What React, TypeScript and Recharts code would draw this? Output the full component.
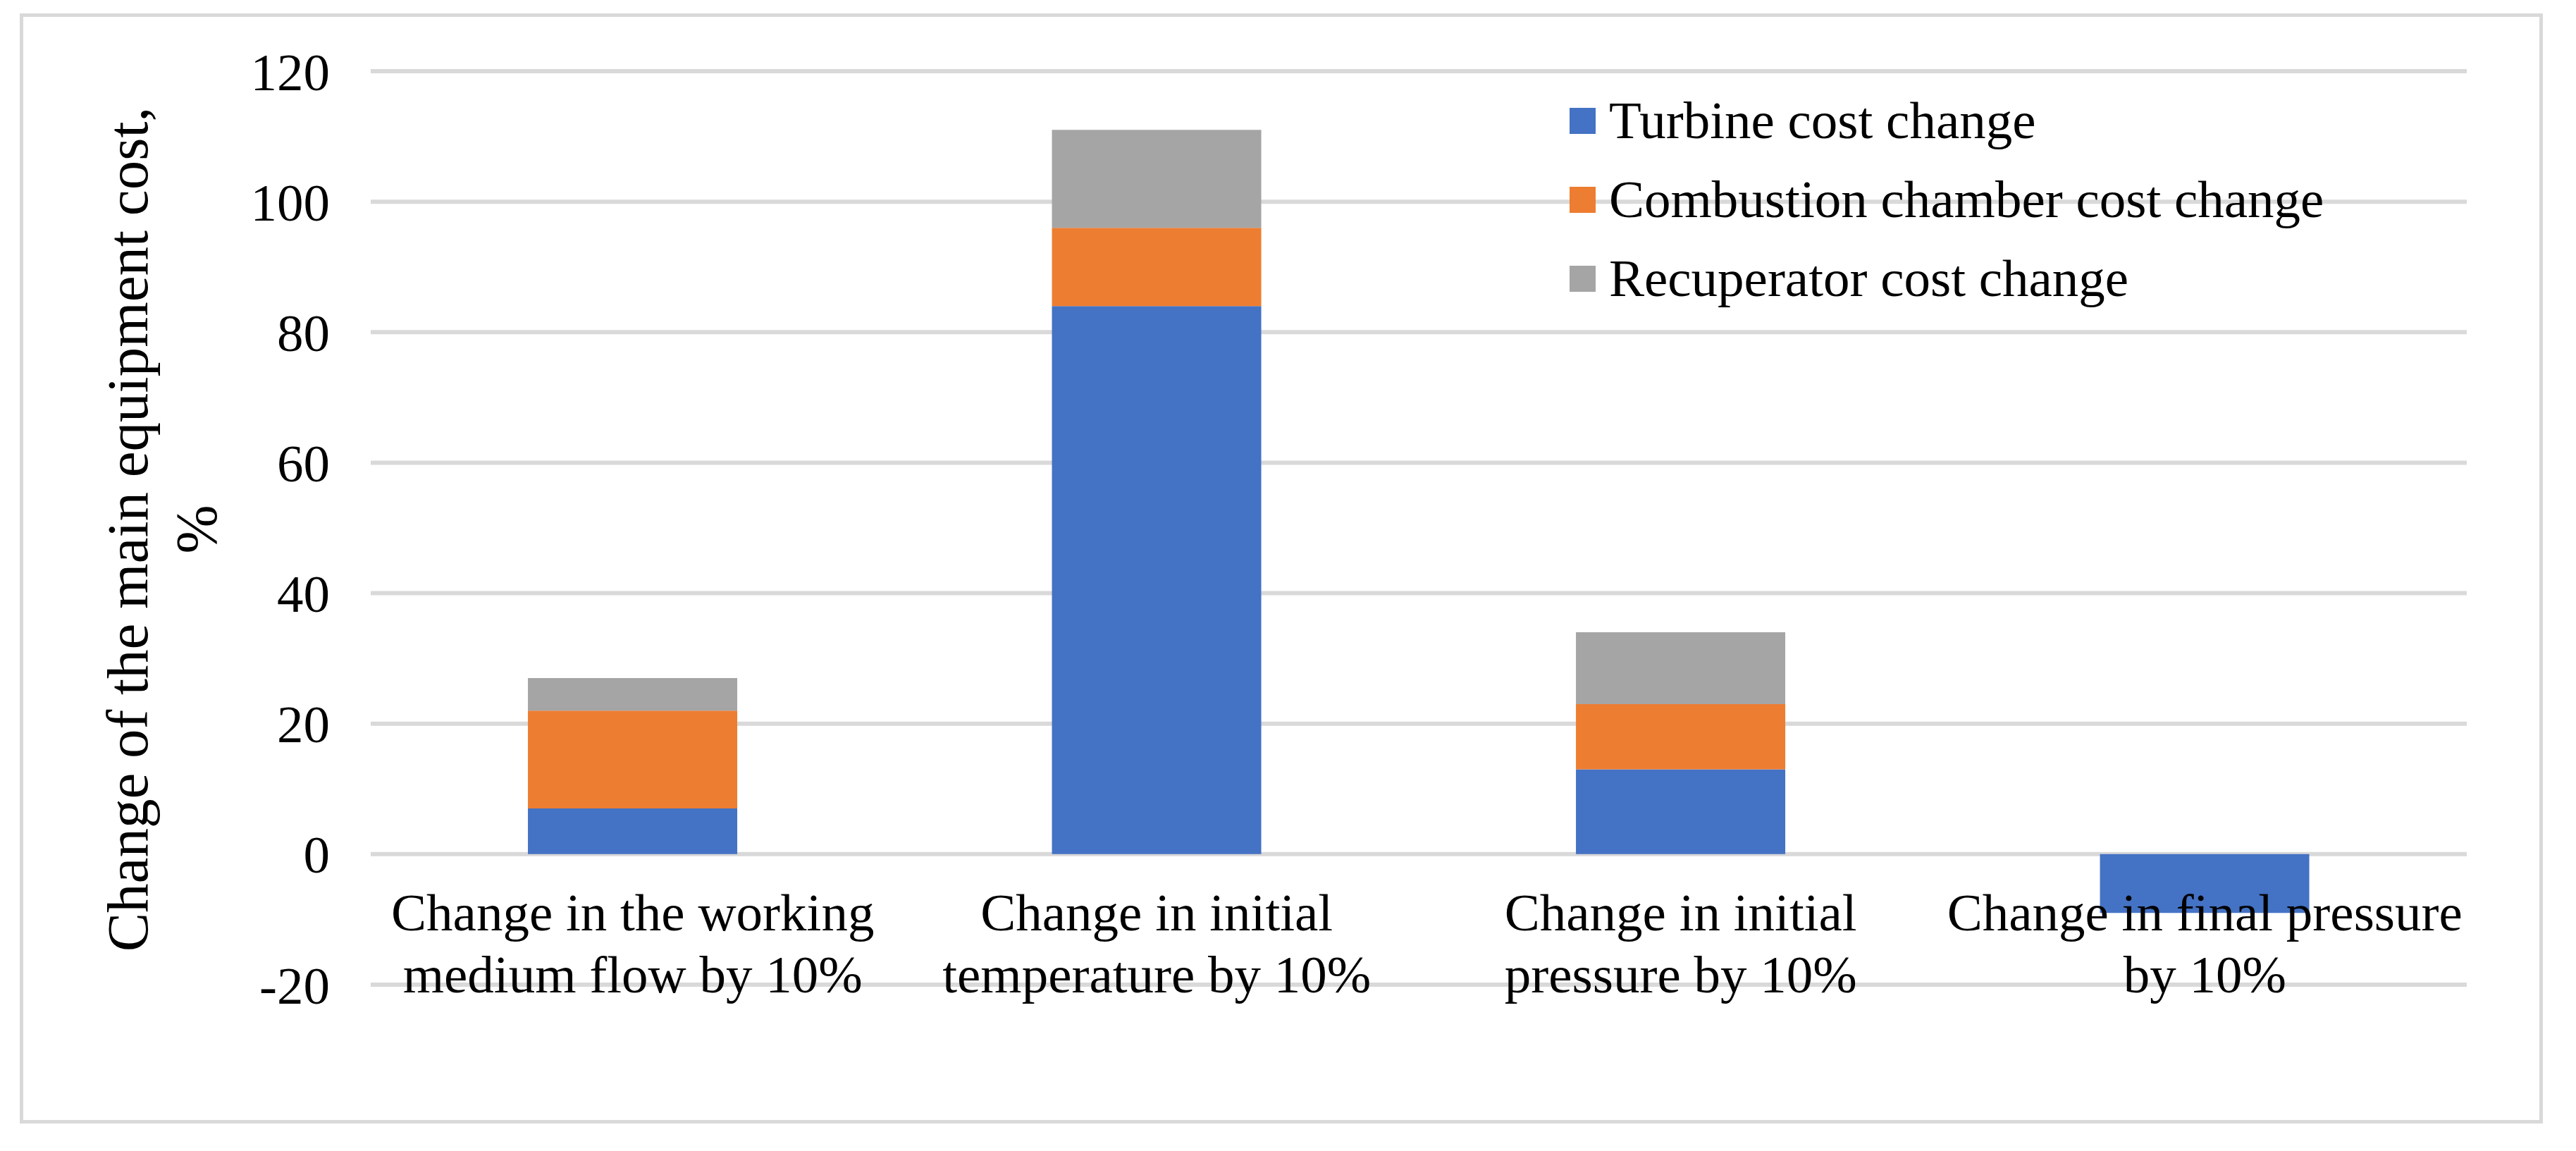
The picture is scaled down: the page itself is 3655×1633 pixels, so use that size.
import { Bar, BarChart, CartesianGrid, Legend, XAxis, YAxis } from 'recharts';

document.body.style.margin = '0';

const FONT = '"Liberation Serif", "Times New Roman", serif';

// categories (full names) and how they wrap under the axis
const categories = [
  'Change in the working medium flow by 10%',
  'Change in initial temperature by 10%',
  'Change in initial pressure by 10%',
  'Change in final pressure by 10%',
];
const tickLines = [
  ['Change in the working', 'medium flow by 10%'],
  ['Change in initial', 'temperature by 10%'],
  ['Change in initial', 'pressure by 10%'],
  ['Change in final pressure', 'by 10%'],
];

const turbine = [7, 84, 13, -9];
const combustion = [15, 12, 10, 0];
const recuperator = [5, 15, 11, 0];

const yTicks = [-20, 0, 20, 40, 60, 80, 100, 120];

const series = [
  { key: 'turbine', name: 'Turbine cost change', color: '#4472C4' },
  { key: 'combustion', name: 'Combustion chamber cost change', color: '#ED7D31' },
  { key: 'recuperator', name: 'Recuperator cost change', color: '#A5A5A5' },
];

const data = categories.map((name, i) => ({
  name,
  turbine: turbine[i],
  combustion: combustion[i],
  recuperator: recuperator[i],
}));

function CategoryTick(props: any) {
  const { x, y, index } = props;
  const lines = tickLines[index] ?? [];
  return (
    <g>
      {lines.map((line, i) => (
        <text
          key={i}
          x={x}
          y={y - 77 + i * 88}
          textAnchor="middle"
          fontFamily={FONT}
          fontSize={75}
          fill="#000"
        >
          {line}
        </text>
      ))}
    </g>
  );
}

function YLabel(props: any) {
  const { viewBox } = props;
  const cx = 209;
  const cy = viewBox.y + viewBox.height / 2 + 2;
  return (
    <text
      transform={`rotate(-90, ${cx}, ${cy})`}
      x={cx}
      y={cy}
      textAnchor="middle"
      fontFamily={FONT}
      fontSize={83}
      fill="#000"
    >
      <tspan x={cx} dy={0}>Change of the main equipment cost,</tspan>
      <tspan x={cx} dy={97}>%</tspan>
    </text>
  );
}

function LegendBox() {
  return (
    <div style={{ fontFamily: FONT, fontSize: 75, color: '#000' }}>
      {series.map((s) => (
        <div key={s.key} style={{ display: 'flex', alignItems: 'center', height: 112, whiteSpace: 'nowrap' }}>
          <span style={{ display: 'inline-block', width: 37, height: 37, background: s.color, marginRight: 19 }} />
          <span style={{ lineHeight: '112px' }}>{s.name}</span>
        </div>
      ))}
    </div>
  );
}

export default function App() {
  return (
    <div style={{ position: 'relative', width: 3655, height: 1633, background: '#fff' }}>
      <div
        style={{
          position: 'absolute',
          left: 28,
          top: 19,
          width: 3580,
          height: 1575,
          border: '5px solid #d9d9d9',
          boxSizing: 'border-box',
        }}
      />
      <BarChart
        width={3655}
        height={1633}
        data={data}
        margin={{ top: 101, right: 155, bottom: 136, left: 0 }}
        barCategoryGap="30%"
        style={{ position: 'absolute', left: 0, top: 0 }}
      >
        <CartesianGrid vertical={false} stroke="#d9d9d9" strokeWidth={6} />
        <XAxis
          dataKey="name"
          height={100}
          axisLine={false}
          tickLine={false}
          tickSize={0}
          tickMargin={0}
          interval={0}
          tick={<CategoryTick />}
        />
        <YAxis
          width={526}
          domain={[-20, 120]}
          ticks={yTicks}
          axisLine={false}
          tickLine={false}
          tickSize={0}
          tickMargin={58}
          tick={{ fontFamily: FONT, fontSize: 75, fill: '#000' }}
          label={{ content: <YLabel /> }}
        />
        <Legend
          layout="vertical"
          align="center"
          verticalAlign="middle"
          content={<LegendBox />}
          wrapperStyle={{ left: 2227, top: 115, width: 1300, height: 336 }}
        />
        {series.map((s) => (
          <Bar key={s.key} dataKey={s.key} name={s.name} stackId="a" fill={s.color} isAnimationActive={false} />
        ))}
      </BarChart>
    </div>
  );
}
